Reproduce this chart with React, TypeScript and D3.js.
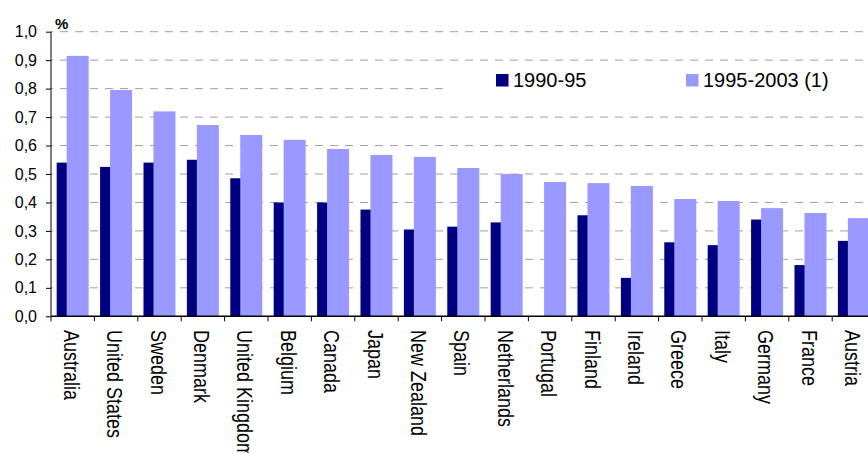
import React, { useEffect, useRef } from "react";
import * as d3 from "d3";

// countries, ordered as in the chart
const countries = [
  "Australia", "United States", "Sweden", "Denmark", "United Kingdom",
  "Belgium", "Canada", "Japan", "New Zealand", "Spain", "Netherlands",
  "Portugal", "Finland", "Ireland", "Greece", "Italy", "Germany", "France", "Austria",
];

// 1990-95 (Portugal has no value)
const period1 = [
  0.54, 0.525, 0.54, 0.55, 0.485, 0.40, 0.40, 0.375, 0.305, 0.315, 0.33,
  null, 0.355, 0.135, 0.26, 0.25, 0.34, 0.18, 0.265,
];

// 1995-2003 (1)
const period2 = [
  0.915, 0.795, 0.72, 0.672, 0.637, 0.62, 0.588, 0.567, 0.56, 0.521, 0.50,
  0.472, 0.468, 0.458, 0.412, 0.405, 0.38, 0.363, 0.345,
];

const yTicks = [0, 0.1, 0.2, 0.3, 0.4, 0.5, 0.6, 0.7, 0.8, 0.9, 1.0];
const seriesNames = ["1990-95", "1995-2003 (1)"];
const colors = ["#000080", "#9999ff"];

const W = 868;
const H = 453;
const FONT = "'Liberation Sans', Arial, sans-serif";

export default function App() {
  const ref = useRef<SVGSVGElement>(null);

  useEffect(() => {
    const svg = d3.select(ref.current);
    svg.selectAll("*").remove();

    const left = 51;
    const top = 31.7;
    const bottom = 316.3;
    const step = 43.4;

    const x = d3.scaleBand<string>()
      .domain(countries)
      .range([left, left + step * countries.length])
      .padding(0);
    const y = d3.scaleLinear().domain([0, 1]).range([bottom, top]);
    const bw = x.bandwidth();
    const barW = bw * 0.507;

    // gridlines
    svg.append("g")
      .selectAll("line")
      .data(yTicks.filter(d => d > 0))
      .join("line")
      .attr("x1", left)
      .attr("x2", W)
      .attr("y1", d => y(d))
      .attr("y2", d => y(d))
      .attr("stroke", "#a0a0a0")
      .attr("stroke-width", 1)
      .attr("stroke-dasharray", "8,7")
      .attr("stroke-dashoffset", 6);

    // bars: first series behind, second overlapping it
    svg.append("g")
      .selectAll("rect")
      .data(countries.map((c, i) => ({ c, v: period1[i] })).filter(d => d.v != null))
      .join("rect")
      .attr("x", d => x(d.c)! + bw * 0.131)
      .attr("y", d => y(d.v as number))
      .attr("width", barW)
      .attr("height", d => bottom - y(d.v as number))
      .attr("fill", colors[0]);

    svg.append("g")
      .selectAll("rect")
      .data(countries.map((c, i) => ({ c, v: period2[i] })))
      .join("rect")
      .attr("x", d => x(d.c)! + bw * 0.361)
      .attr("y", d => y(d.v))
      .attr("width", barW)
      .attr("height", d => bottom - y(d.v))
      .attr("fill", colors[1]);

    // y axis
    const yAxis = svg.append("g")
      .attr("transform", `translate(${left},0)`)
      .call(d3.axisLeft(y).tickValues(yTicks).tickSize(5).tickPadding(9)
        .tickFormat(d => d3.format(".1f")(d as number).replace(".", ",")));
    yAxis.select(".domain").attr("stroke", "#000").attr("d", `M0,${top}V${bottom}`);
    yAxis.selectAll(".tick line").attr("stroke", "#000");
    yAxis.selectAll(".tick text")
      .attr("font-family", FONT)
      .attr("font-size", 16)
      .attr("fill", "#000");

    // x axis: ticks at category boundaries
    const xg = svg.append("g");
    xg.append("line")
      .attr("x1", left).attr("x2", W)
      .attr("y1", bottom).attr("y2", bottom)
      .attr("stroke", "#000").attr("stroke-width", 1.5);
    xg.selectAll("line.tk")
      .data(countries)
      .join("line")
      .attr("class", "tk")
      .attr("x1", d => x(d)!)
      .attr("x2", d => x(d)!)
      .attr("y1", bottom)
      .attr("y2", bottom + 5)
      .attr("stroke", "#000");
    // rotated labels, glyphs a little taller than wide like the original
    xg.selectAll("text")
      .data(countries)
      .join("text")
      .attr("transform", d => `translate(${x(d)! + bw / 2 - 9},330) rotate(90) scale(1,1.18)`)
      .attr("font-family", FONT)
      .attr("font-size", 18)
      .attr("fill", "#000")
      .text(d => d);

    // unit label
    svg.append("text")
      .attr("x", 55)
      .attr("y", 29)
      .attr("font-family", FONT)
      .attr("font-size", 15)
      .attr("font-weight", "bold")
      .text("%");

    // legend
    const lg = svg.append("g");
    lg.append("rect")
      .attr("x", 446).attr("y", 64)
      .attr("width", W - 446).attr("height", 36)
      .attr("fill", "#fff");
    const legendX = [496, 686];
    seriesNames.forEach((name, i) => {
      lg.append("rect")
        .attr("x", legendX[i]).attr("y", 74)
        .attr("width", 12.5).attr("height", 12.5)
        .attr("fill", colors[i]);
      lg.append("text")
        .attr("x", legendX[i] + 17)
        .attr("y", 86.5)
        .attr("font-family", FONT)
        .attr("font-size", 20)
        .attr("fill", "#000")
        .text(name);
    });
  }, []);

  return (
    <svg
      ref={ref}
      width={W}
      height={H}
      style={{ position: "absolute", left: 0, top: 0, background: "#fff" }}
    />
  );
}
